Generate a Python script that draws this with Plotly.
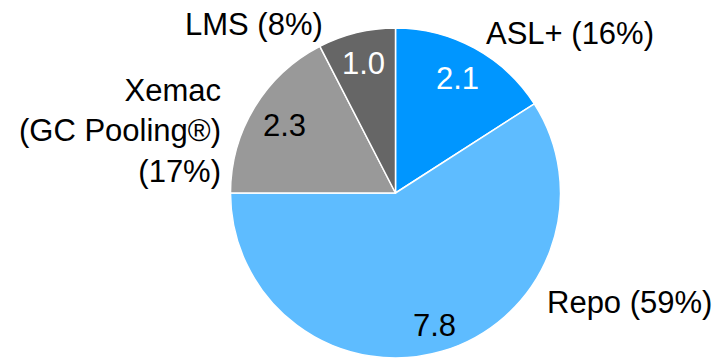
import math
import plotly.graph_objects as go

# ---- data ----
names = ["ASL+", "Repo", "Xemac<br>(GC Pooling®)", "LMS"]
values = [2.1, 7.8, 2.3, 1.0]
colors = ["#0096FF", "#5EBCFF", "#999999", "#666666"]
value_text_colors = ["white", "black", "black", "white"]

W, H = 719, 358
CX, CY, R = 395.5, 193.0, 165.0  # pie centre / radius in pixels

fig = go.Figure(go.Pie(
    labels=names,
    values=values,
    sort=False,
    direction="clockwise",
    rotation=0,
    marker=dict(colors=colors, line=dict(color="white", width=1.5)),
    textinfo="none",
    hoverinfo="label+value+percent",
    showlegend=False,
    domain=dict(x=[(CX - R) / W, (CX + R) / W], y=[1 - (CY + R) / H, 1 - (CY - R) / H]),
))

total = sum(values)
font_family = "Liberation Sans, Arial, sans-serif"
FS = 31

# value labels inside slices, placed along each slice's mid-angle
radial = [0.79, 0.84, 0.79, 0.81]
cum = 0.0
for v, col, rf in zip(values, value_text_colors, radial):
    mid = (cum + v / 2) / total * 2 * math.pi
    cum += v
    px = CX + rf * R * math.sin(mid)
    py = CY - rf * R * math.cos(mid)
    fig.add_annotation(x=px / W, y=1 - py / H, xref="paper", yref="paper",
                       text=f"{v:.1f}", showarrow=False,
                       font=dict(family=font_family, size=FS, color=col),
                       xanchor="center", yanchor="middle")

# outside category labels with percentage
label_pos = [  # (x px, y px, xanchor)
    (484, 33, "left"),
    (545, 302, "left"),
    (223, 131, "right"),
    (325, 24, "right"),
]
for n, v, (lx, ly, xa) in zip(names, values, label_pos):
    pct = round(v / total * 100)
    fig.add_annotation(x=lx / W, y=1 - ly / H, xref="paper", yref="paper",
                       text=f"{n}<br>({pct}%)" if "<br>" in n else f"{n} ({pct}%)",
                       showarrow=False, align="right" if xa == "right" else "left",
                       font=dict(family=font_family, size=FS, color="black"),
                       xanchor=xa, yanchor="middle")

fig.update_layout(
    width=W, height=H,
    margin=dict(l=0, r=0, t=0, b=0),
    paper_bgcolor="white", plot_bgcolor="white",
)

fig.write_html("out.html", config={"displayModeBar": False},
               post_script="document.body.style.margin='0';")
